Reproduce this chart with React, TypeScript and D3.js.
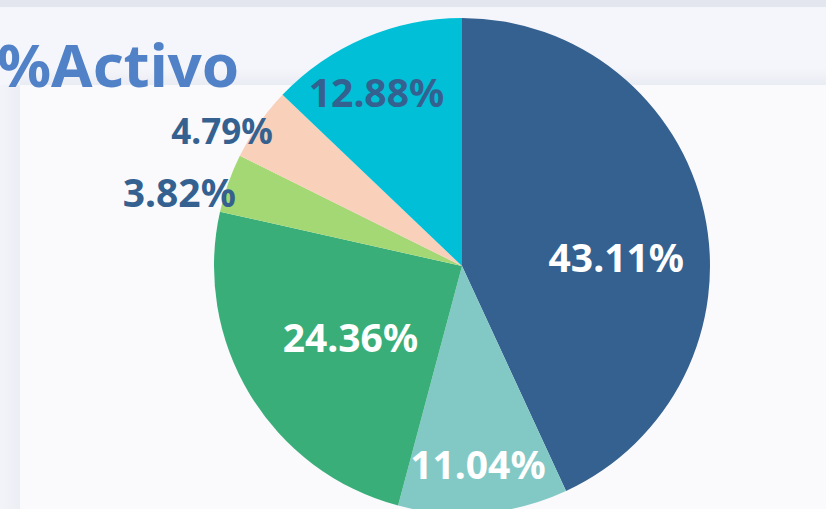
import React from "react";
import * as d3 from "d3";

const categories = ["A", "B", "C", "D", "E", "F"];
const values = [43.11, 11.04, 24.36, 3.82, 4.79, 12.88];
const colors = ["#34618f", "#82c9c6", "#39ae79", "#a4d874", "#f9d0b9", "#00bfd6"];
const labelColors = ["#ffffff", "#ffffff", "#ffffff", "#34618f", "#34618f", "#34618f"];
const labelSizes = [39, 39, 39, 39, 35, 39];
// layout: label placement as [dx, dy] in units of radius; anchor
const labelOffsets: [number, number][] = [
  [0.622, -0.032],
  [0.064, 0.803],
  [-0.45, 0.289],
  [-0.912, -0.293],
  [-0.763, -0.542],
  [-0.345, -0.699],
];
const labelAnchors = ["middle", "middle", "middle", "end", "end", "middle"];

const W = 826;
const H = 509;

export default function App() {
  const cx = 462;
  const cy = 266;
  const R = 248;
  const pie = d3.pie<number>().sort(null).value((d) => d);
  const arcs = pie(values);
  const arc = d3.arc<d3.PieArcDatum<number>>().innerRadius(0).outerRadius(R);
  const font = "'Noto Sans', 'Open Sans', sans-serif";
  return (
    <svg
      width={W}
      height={H}
      style={{ position: "absolute", left: 0, top: 0, display: "block" }}
    >
      <defs>
        <linearGradient id="shL" x1="0" x2="1" y1="0" y2="0">
          <stop offset="0" stopColor="#f3f4f9" />
          <stop offset="1" stopColor="#eceef5" />
        </linearGradient>
        <linearGradient id="shT" x1="0" x2="0" y1="0" y2="1">
          <stop offset="0" stopColor="#f5f6fb" />
          <stop offset="1" stopColor="#eaecf3" />
        </linearGradient>
      </defs>
      <rect x={0} y={0} width={W} height={H} fill="#f5f6fb" />
      <rect x={0} y={0} width={W} height={7} fill="#e4e6ef" />
      <rect x={0} y={85} width={20} height={H - 85} fill="url(#shL)" />
      <rect x={20} y={68} width={W - 20} height={17} fill="url(#shT)" />
      <rect x={20} y={85} width={W - 20} height={H - 85} fill="#fafafd" />
      <text
        x={-3}
        y={87}
        fill="#5182c8"
        fontFamily={font}
        fontWeight={700}
        fontSize={60}
      >
        %Activo
      </text>
      <g transform={`translate(${cx},${cy})`}>
        {arcs.map((a, i) => (
          <path key={categories[i]} d={arc(a) || ""} fill={colors[i]} />
        ))}
        {arcs.map((a, i) => (
          <text
            key={"l" + i}
            x={labelOffsets[i][0] * R}
            y={labelOffsets[i][1] * R}
            dy="0.36em"
            textAnchor={labelAnchors[i]}
            fill={labelColors[i]}
            fontFamily={font}
            fontWeight={700}
            fontSize={labelSizes[i]}
          >
            {values[i].toFixed(2) + "%"}
          </text>
        ))}
      </g>
    </svg>
  );
}
